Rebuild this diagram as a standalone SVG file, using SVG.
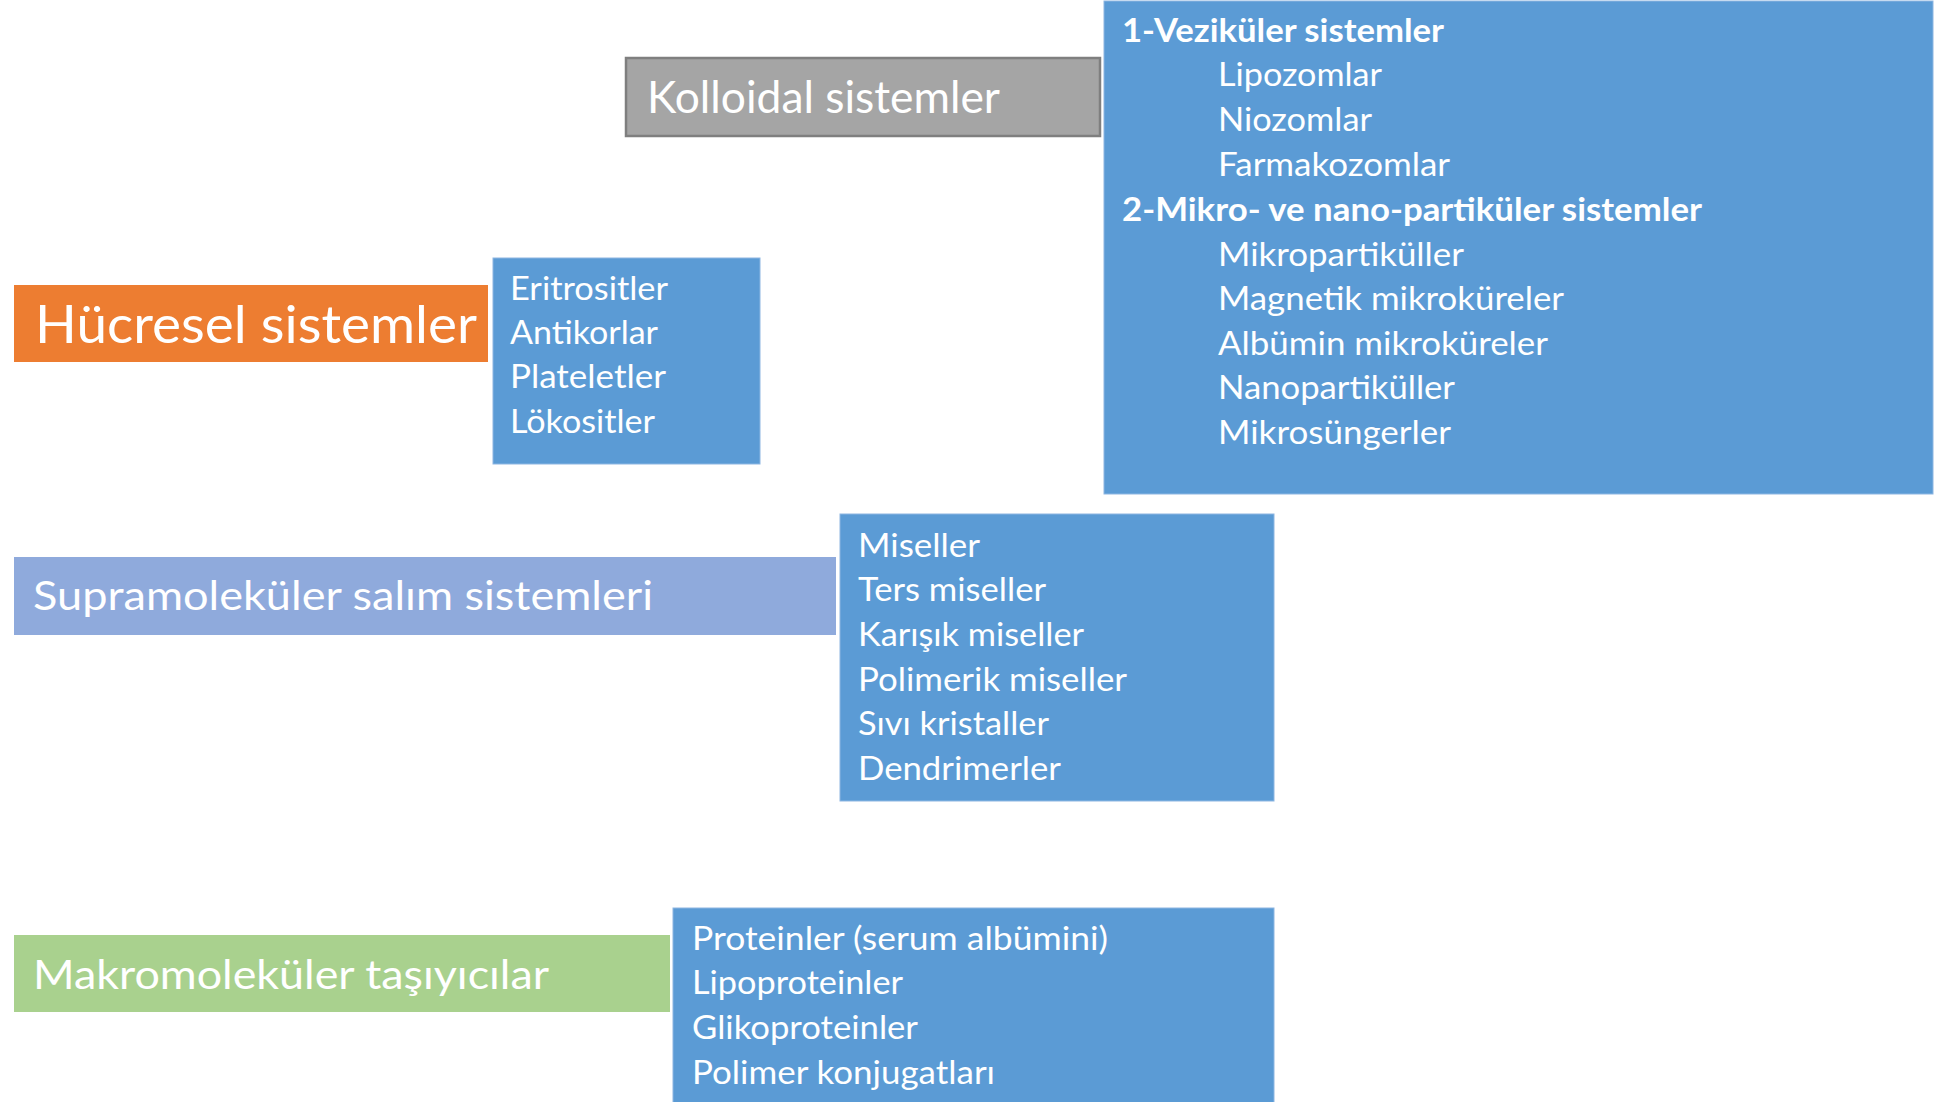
<svg xmlns="http://www.w3.org/2000/svg" width="1934" height="1102" viewBox="0 0 1934 1102">
<style>
  text { font-family: Lato, "Open Sans", "Liberation Sans", sans-serif; fill: #FFFFFF; }
  .item { font-size: 32px; }
  .head { font-size: 31.5px; font-weight: bold; }
  .title { font-size: 41px; }
  .ktitle { font-size: 44px; }
  .big { font-size: 53px; }
  .list { fill: #5B9BD5; stroke: #8DB6E2; stroke-width: 1; }
</style>
<rect x="0" y="0" width="1934" height="1102" fill="#FFFFFF"/>
<g id="connectors"></g>

<g id="kolloidal">
  <rect x="626" y="58" width="474" height="78" fill="#A5A5A5" stroke="#7F7F7F" stroke-width="2.5"/>
  <text class="ktitle" x="647" y="113" textLength="353" lengthAdjust="spacingAndGlyphs">Kolloidal sistemler</text>
</g>

<g id="kolloidal-list">
  <rect class="list" x="1104" y="1" width="829" height="493"/>
  <text class="head" x="1122" y="42" textLength="322" lengthAdjust="spacingAndGlyphs">1-Veziküler sistemler</text>
  <text class="item" x="1218" y="86" textLength="164" lengthAdjust="spacingAndGlyphs">Lipozomlar</text>
  <text class="item" x="1218" y="131" textLength="154" lengthAdjust="spacingAndGlyphs">Niozomlar</text>
  <text class="item" x="1218" y="176" textLength="232" lengthAdjust="spacingAndGlyphs">Farmakozomlar</text>
  <text class="head" x="1122" y="221" textLength="580" lengthAdjust="spacingAndGlyphs">2-Mikro- ve nano-partiküler sistemler</text>
  <text class="item" x="1218" y="266" textLength="246" lengthAdjust="spacingAndGlyphs">Mikropartiküller</text>
  <text class="item" x="1218" y="310" textLength="346" lengthAdjust="spacingAndGlyphs">Magnetik mikroküreler</text>
  <text class="item" x="1218" y="355" textLength="330" lengthAdjust="spacingAndGlyphs">Albümin mikroküreler</text>
  <text class="item" x="1218" y="399" textLength="237" lengthAdjust="spacingAndGlyphs">Nanopartiküller</text>
  <text class="item" x="1218" y="444" textLength="233" lengthAdjust="spacingAndGlyphs">Mikrosüngerler</text>
</g>

<g id="hucresel">
  <rect x="14" y="285" width="474" height="77" fill="#ED7D31"/>
  <text class="big" x="35" y="343" textLength="442" lengthAdjust="spacingAndGlyphs">Hücresel sistemler</text>
</g>

<g id="hucresel-list">
  <rect class="list" x="493" y="258" width="267" height="206"/>
  <text class="item" x="510" y="300" textLength="158" lengthAdjust="spacingAndGlyphs">Eritrositler</text>
  <text class="item" x="510" y="344" textLength="148" lengthAdjust="spacingAndGlyphs">Antikorlar</text>
  <text class="item" x="510" y="388" textLength="156" lengthAdjust="spacingAndGlyphs">Plateletler</text>
  <text class="item" x="510" y="433" textLength="145" lengthAdjust="spacingAndGlyphs">Lökositler</text>
</g>

<g id="supramolekuler">
  <rect x="14" y="557" width="822" height="78" fill="#8FAADC"/>
  <text class="title" x="33" y="610" textLength="620" lengthAdjust="spacingAndGlyphs">Supramoleküler salım sistemleri</text>
</g>

<g id="supramolekuler-list">
  <rect class="list" x="840" y="514" width="434" height="287"/>
  <text class="item" x="858" y="557" textLength="122" lengthAdjust="spacingAndGlyphs">Miseller</text>
  <text class="item" x="858" y="601" textLength="188" lengthAdjust="spacingAndGlyphs">Ters miseller</text>
  <text class="item" x="858" y="646" textLength="226" lengthAdjust="spacingAndGlyphs">Karışık miseller</text>
  <text class="item" x="858" y="691" textLength="269" lengthAdjust="spacingAndGlyphs">Polimerik miseller</text>
  <text class="item" x="858" y="735" textLength="191" lengthAdjust="spacingAndGlyphs">Sıvı kristaller</text>
  <text class="item" x="858" y="780" textLength="203" lengthAdjust="spacingAndGlyphs">Dendrimerler</text>
</g>

<g id="makromolekuler">
  <rect x="14" y="935" width="656" height="77" fill="#A9D18E"/>
  <text class="title" x="33" y="989" textLength="516" lengthAdjust="spacingAndGlyphs">Makromoleküler taşıyıcılar</text>
</g>

<g id="makromolekuler-list">
  <rect class="list" x="673" y="908" width="601" height="200"/>
  <text class="item" x="692" y="950" textLength="416" lengthAdjust="spacingAndGlyphs">Proteinler (serum albümini)</text>
  <text class="item" x="692" y="994" textLength="211" lengthAdjust="spacingAndGlyphs">Lipoproteinler</text>
  <text class="item" x="692" y="1039" textLength="226" lengthAdjust="spacingAndGlyphs">Glikoproteinler</text>
  <text class="item" x="692" y="1084" textLength="303" lengthAdjust="spacingAndGlyphs">Polimer konjugatları</text>
</g>
</svg>
